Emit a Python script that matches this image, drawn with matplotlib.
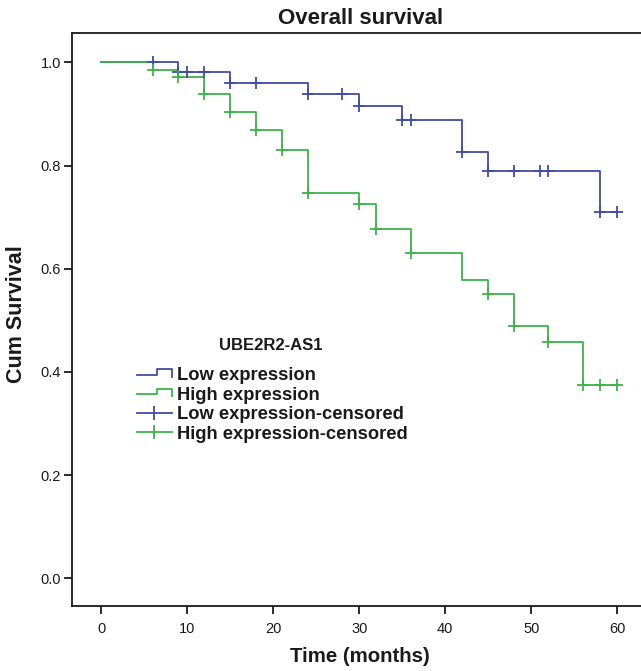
import numpy as np
import matplotlib
matplotlib.use("Agg")
import matplotlib.pyplot as plt
from matplotlib.lines import Line2D
from matplotlib.legend_handler import HandlerBase

plt.rcParams['font.family'] = ['Liberation Sans', 'DejaVu Sans']

# ---- data ----
low_times = [0, 9, 15, 24, 30, 35, 42, 45, 58, 60]
low_surv = [1.0, 0.982, 0.961, 0.939, 0.915, 0.889, 0.826, 0.790, 0.710, 0.710]
low_censor_t = [6, 9, 10, 12, 15, 18, 24, 28, 30, 35, 36, 42, 45, 48, 51, 52, 58, 60]

high_times = [0, 6, 9, 12, 15, 18, 21, 24, 30, 32, 36, 42, 45, 48, 52, 56, 60]
high_surv = [1.0, 0.985, 0.971, 0.938, 0.904, 0.869, 0.830, 0.746, 0.726, 0.678,
             0.630, 0.578, 0.551, 0.489, 0.458, 0.375, 0.375]
high_censor_t = [6, 9, 12, 15, 18, 21, 24, 30, 32, 36, 45, 48, 52, 56, 58, 60]

x_ticks = [0, 10, 20, 30, 40, 50, 60]
y_ticks = [0.0, 0.2, 0.4, 0.6, 0.8, 1.0]
legend_labels = ["Low expression", "High expression",
                 "Low expression-censored", "High expression-censored"]

BLUE = '#3F4DA8'
GREEN = '#3DB449'
INK = '#1a1a1a'

fig = plt.figure(figsize=(6.41, 6.71), dpi=100)
ax = fig.add_axes([72/641, (671-605.7)/671, 1 - 72/641, (605.7-33)/671])


def surv_at(times, surv, ts):
    idx = np.searchsorted(np.array(times), np.array(ts), side='right') - 1
    return np.array(surv)[idx]


for times, surv, ct, col in [(low_times, low_surv, low_censor_t, BLUE),
                             (high_times, high_surv, high_censor_t, GREEN)]:
    ax.step(times, surv, where='post', color=col, lw=1.3, zorder=3)
    ax.plot(ct, surv_at(times, surv, ct), linestyle='none', marker='+',
            markersize=9, markeredgewidth=1.3, color=col, zorder=4)

ax.set_xlim(-3.37, 62.75)
ax.set_ylim(-0.053, 1.057)
ax.set_xticks(x_ticks)
ax.set_yticks(y_ticks)
ax.set_xticklabels([str(v) for v in x_ticks])
ax.set_yticklabels([f"{v:.1f}" for v in y_ticks])
ax.tick_params(axis='both', direction='out', length=6, width=1.3,
               labelsize=10.5, pad=2, color=INK, labelcolor=INK)
ax.tick_params(axis='x', pad=6)
for s in ['left', 'bottom', 'top']:
    ax.spines[s].set_linewidth(1.3)
    ax.spines[s].set_color(INK)
ax.spines['right'].set_visible(False)

fig.text(361/641, 1 - 19/671, "Overall survival", ha='center', va='center',
         fontsize=16, fontweight='bold', color=INK)
fig.text(17/641, 1 - 314/671, "Cum Survival", rotation=90, ha='center', va='center',
         fontsize=15.5, fontweight='bold', color=INK)
fig.text(360/641, 1 - 657/671, "Time (months)", ha='center', va='center',
         fontsize=14.7, fontweight='bold', color=INK)


class StepHandler(HandlerBase):
    def __init__(self, color):
        super().__init__()
        self.color = color

    def create_artists(self, legend, orig_handle, xdescent, ydescent, width,
                       height, fontsize, trans):
        x0 = -xdescent
        y0 = -ydescent
        xr = x0 + 0.56 * width
        ys_low = y0 + 0.42 * height
        ys_high = y0 + 0.82 * height
        ys_tail = y0 + 0.26 * height
        xs = [x0, xr, xr, x0 + width, x0 + width]
        ys = [ys_low, ys_low, ys_high, ys_high, ys_tail]
        ln = Line2D(xs, ys, color=self.color, lw=1.3, transform=trans)
        return [ln]


h_low = Line2D([], [], color=BLUE)
h_high = Line2D([], [], color=GREEN)
h_lowc = Line2D([], [], color=BLUE, lw=1.3, marker='|', markersize=10,
                markeredgewidth=1.3)
h_highc = Line2D([], [], color=GREEN, lw=1.3, marker='|', markersize=10,
                 markeredgewidth=1.3)

leg = fig.legend([h_low, h_high, h_lowc, h_highc], legend_labels,
                 handler_map={h_low: StepHandler(BLUE), h_high: StepHandler(GREEN)},
                 loc='upper left', bbox_to_anchor=(137/641, 1 - 367/671),
                 frameon=False, handlelength=1.9, handletextpad=0.28,
                 labelspacing=0.14, numpoints=1, borderaxespad=0, borderpad=0,
                 prop={'weight': 'bold', 'size': 13.2})
for t in leg.get_texts():
    t.set_color(INK)

fig.text(271/641, 1 - 345/671, "UBE2R2-AS1", ha='center', va='center',
         fontsize=12, fontweight='bold', color=INK)

fig.savefig("out.png", dpi=100)
